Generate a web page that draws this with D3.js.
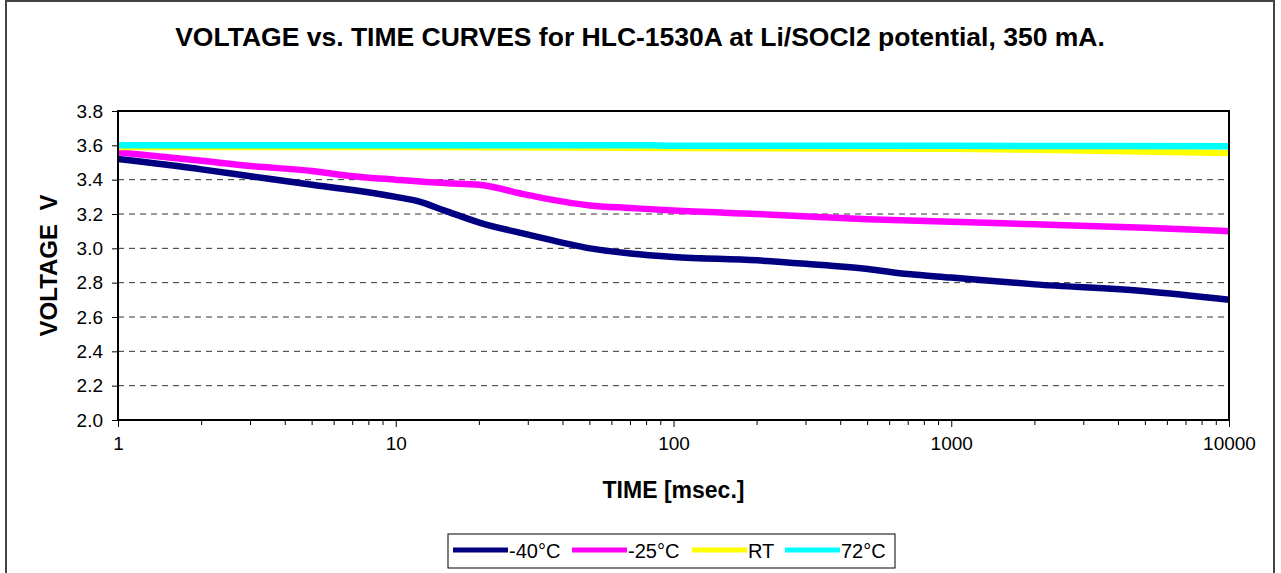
<!DOCTYPE html>
<html>
<head>
<meta charset="utf-8">
<script src="https://cdn.jsdelivr.net/npm/d3@7"></script>
<style>
  body { margin: 0; background: #fff; }
  text { font-family: "Liberation Sans", Arial, sans-serif; }
</style>
</head>
<body>
<div id="chart"></div>
<script>
// time in msec, voltage in V
const times40 = [1, 2, 3, 5, 7, 10, 12, 15, 20, 30, 50, 70, 100, 200, 300, 500, 700, 1000, 2000, 5000, 10000];
const volts40 = [3.52, 3.46, 3.42, 3.37, 3.34, 3.30, 3.275, 3.22, 3.15, 3.08, 3.00, 2.97, 2.95, 2.93, 2.91, 2.88, 2.85, 2.83, 2.79, 2.75, 2.70];

const times25 = [1, 2, 3, 5, 7, 10, 15, 20, 30, 50, 70, 100, 200, 500, 1000, 2000, 5000, 10000];
const volts25 = [3.56, 3.51, 3.48, 3.45, 3.42, 3.40, 3.38, 3.37, 3.31, 3.25, 3.235, 3.22, 3.20, 3.17, 3.155, 3.14, 3.12, 3.10];

const timesRT = [1, 10, 100, 1000, 3000, 10000];
const voltsRT = [3.59, 3.59, 3.585, 3.58, 3.57, 3.555];

const times72 = [1, 10, 80, 100, 1000, 10000];
const volts72 = [3.60, 3.60, 3.60, 3.598, 3.597, 3.594];

const seriesNames = ["-40°C", "-25°C", "RT", "72°C"];
const seriesColors = ["#000080", "#ff00ff", "#ffff00", "#00ffff"];
const yTicks = [2.0, 2.2, 2.4, 2.6, 2.8, 3.0, 3.2, 3.4, 3.6, 3.8];
const xTicks = [1, 10, 100, 1000, 10000];

const width = 1281, height = 573;
const plot = { left: 118, right: 1229, top: 111, bottom: 420 };

const svg = d3.select("#chart").append("svg")
    .attr("width", width)
    .attr("height", height);

// outer chart frame
svg.append("rect")
    .attr("x", 6).attr("y", 1)
    .attr("width", 1268).attr("height", 620)
    .attr("fill", "#fff")
    .attr("stroke", "#444")
    .attr("stroke-width", 2);

let x = d3.scaleLog()
    .domain([1, 10000])
    .range([plot.left, plot.right]);

let y = d3.scaleLinear()
    .domain([2.0, 3.8])
    .range([plot.bottom, plot.top]);

// dashed gridlines
svg.append("g").selectAll("line")
    .data(yTicks.filter(v => v > 2.0 && v < 3.8))
    .enter().append("line")
    .attr("x1", plot.left).attr("x2", plot.right)
    .attr("y1", d => y(d)).attr("y2", d => y(d))
    .attr("stroke", "#333")
    .attr("stroke-width", 1)
    .attr("stroke-dasharray", "6,5");

// series lines
let series = [
    times40.map((t, i) => [t, volts40[i]]),
    times25.map((t, i) => [t, volts25[i]]),
    timesRT.map((t, i) => [t, voltsRT[i]]),
    times72.map((t, i) => [t, volts72[i]])
];

let line = d3.line()
    .x(d => x(d[0]))
    .y(d => y(d[1]))
    .curve(d3.curveMonotoneX);

svg.append("g").selectAll("path")
    .data(series)
    .enter().append("path")
    .attr("d", line)
    .attr("fill", "none")
    .attr("stroke", (d, i) => seriesColors[i])
    .attr("stroke-width", 6.5);

// plot frame
svg.append("rect")
    .attr("x", plot.left).attr("y", plot.top)
    .attr("width", plot.right - plot.left)
    .attr("height", plot.bottom - plot.top)
    .attr("fill", "none")
    .attr("stroke", "#000")
    .attr("stroke-width", 2);

// y axis
let yAxis = svg.append("g")
    .attr("transform", `translate(${plot.left}, 0)`)
    .call(d3.axisLeft(y).tickValues(yTicks).tickFormat(d3.format(".1f")).tickSize(6).tickPadding(9));
yAxis.select(".domain").remove();
yAxis.selectAll("text").style("font-size", "19px").attr("fill", "#000")
    .style("font-family", "'Liberation Sans', Arial, sans-serif");
yAxis.selectAll("line").attr("stroke", "#000");

// x axis with minor ticks
let minorTicks = [];
for (let dec = 1; dec < 10000; dec *= 10)
    for (let k = 2; k < 10; k++) minorTicks.push(dec * k);

svg.append("g").selectAll("line")
    .data(minorTicks)
    .enter().append("line")
    .attr("x1", d => x(d)).attr("x2", d => x(d))
    .attr("y1", plot.bottom).attr("y2", plot.bottom + 5)
    .attr("stroke", "#000");

let xAxis = svg.append("g")
    .attr("transform", `translate(0, ${plot.bottom})`)
    .call(d3.axisBottom(x).tickValues(xTicks).tickFormat(d3.format("d")).tickSize(7).tickPadding(10));
xAxis.select(".domain").remove();
xAxis.selectAll("text").style("font-size", "19px").attr("fill", "#000")
    .style("font-family", "'Liberation Sans', Arial, sans-serif");
xAxis.selectAll("line").attr("stroke", "#000");

// title
svg.append("text")
    .attr("x", 640).attr("y", 46)
    .style("text-anchor", "middle")
    .style("font-size", "26.5px")
    .style("font-weight", "bold")
    .text("VOLTAGE vs. TIME CURVES for HLC-1530A at Li/SOCl2 potential, 350 mA.");

// x-axis label
svg.append("text")
    .attr("x", (plot.left + plot.right) / 2).attr("y", 498)
    .style("text-anchor", "middle")
    .style("font-size", "23px")
    .style("font-weight", "bold")
    .text("TIME [msec.]");

// y-axis label
svg.append("text")
    .attr("transform", `translate(57, ${(plot.top + plot.bottom) / 2}) rotate(-90)`)
    .attr("xml:space", "preserve")
    .style("text-anchor", "middle")
    .style("font-size", "24px")
    .style("font-weight", "bold")
    .style("white-space", "pre")
    .text("VOLTAGE  V");

// legend
let legend = svg.append("g");
legend.append("rect")
    .attr("x", 448).attr("y", 534)
    .attr("width", 447).attr("height", 34)
    .attr("fill", "#fff")
    .attr("stroke", "#000")
    .attr("stroke-width", 1);

let legendX = [453, 572, 692, 785];
seriesNames.forEach((name, i) => {
    legend.append("line")
        .attr("x1", legendX[i]).attr("x2", legendX[i] + 55)
        .attr("y1", 550).attr("y2", 550)
        .attr("stroke", seriesColors[i])
        .attr("stroke-width", 5);
    legend.append("text")
        .attr("x", legendX[i] + 56).attr("y", 558)
        .style("font-size", "20px")
        .text(name);
});
</script>
</body>
</html>
